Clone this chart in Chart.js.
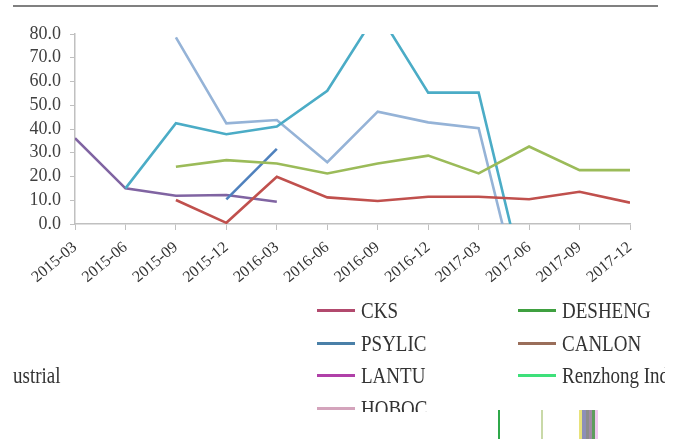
<!DOCTYPE html>
<html>
<head>
<meta charset="utf-8">
<script src="https://cdn.jsdelivr.net/npm/chart.js@4.4.1/dist/chart.umd.min.js"></script>
<style>
  html, body { margin: 0; padding: 0; background: #fff; }
  #wrap { position: relative; width: 684px; height: 439px; overflow: hidden; font-family: 'Liberation Serif', serif; }
  #topline { position: absolute; left: 13px; top: 5px; width: 645px; height: 2px; background: #808080; }
  #chartBox { position: absolute; left: 0; top: 0; width: 684px; height: 300px; }
  #legend { position: absolute; left: 0; top: 0; width: 665px; height: 412px; overflow: hidden; pointer-events: none; }
  .item { position: absolute; height: 24px; white-space: nowrap; }
  .sw { position: absolute; left: 0; top: 10px; width: 38px; height: 3px; }
  .lbl { position: absolute; left: 44px; top: 0; font-size: 19px; line-height: 24px; color: #333;
         transform: scaleY(1.2); transform-origin: left center; }
  .bar { position: absolute; top: 410px; height: 29px; }
</style>
</head>
<body>
<div id="wrap">
  <div id="topline"></div>
  <div id="chartBox"><canvas id="chart"></canvas></div>
  <div id="legend"></div>
  <div class="bar" style="left:498px;width:2px;background:#2fa84a;"></div>
  <div class="bar" style="left:541px;width:2px;background:#c9d9a8;"></div>
  <div class="bar" style="left:579px;width:19px;background:linear-gradient(90deg,#e8e27a 0 15%,#8d8fb8 15% 35%,#8c8c8c 35% 55%,#a28aa6 55% 70%,#5f9c5f 70% 85%,#f0c8f0 85%);"></div>
</div>
<script>
// quarters on the x axis
const quarters = ['2015-03', '2015-06', '2015-09', '2015-12', '2016-03', '2016-06',
                  '2016-09', '2016-12', '2017-03', '2017-06', '2017-09', '2017-12'];

// series values
const cks      = [null, null, 10.1, 0.5, 19.9, 11.2, 9.7, 11.5, 11.5, 10.4, 13.6, 9.0];
const desheng  = [null, null, 24.1, 26.9, 25.5, 21.3, 25.5, 28.8, 21.3, 32.6, 22.7, 22.7];
const psylic   = [null, 15.0, 42.4, 37.8, 41.0, 56.1, 89.5, 55.3, 55.3, -32.8, null, null];
const canlon   = [null, null, null, 10.4, 31.6, null, null, null, null, null, null, null];
const lantu    = [36.1, 15.0, 11.9, 12.2, 9.4, null, null, null, null, null, null, null];
const renzhong = [null, null, null, null, null, null, null, null, null, null, null, null];
const hoboc    = [null, null, 78.6, 42.4, 43.8, 26.0, 47.3, 42.8, 40.3, -45.3, null, null];

const seriesNames = ['CKS', 'DESHENG', 'PSYLIC', 'CANLON', 'LANTU', 'Renzhong Industrial', 'HOBOC'];
const seriesData = [cks, desheng, psylic, canlon, lantu, renzhong, hoboc];

// y axis
const yMin = 0, yMax = 80, yStep = 10;

// colours: line in the plot, and swatch in the legend
const lineColors   = ['#c0504d', '#9bbb59', '#4bacc6', '#4f81bd', '#8064a2', '#3fdc7c', '#95b3d7'];
const legendColors = ['#b24a6e', '#3fa040', '#4a80a8', '#9a6e5a', '#b040a8', '#3ee07a', '#d4a4bc'];

Chart.defaults.font.family = "'Liberation Serif', serif";
Chart.defaults.color = '#404040';

const datasets = seriesNames.map((name, i) => ({
  label: name,
  data: seriesData[i],
  borderColor: lineColors[i],
  backgroundColor: lineColors[i],
  borderWidth: 2.6,
  pointRadius: 0,
  tension: 0,
  fill: false,
  spanGaps: false,
  clip: 0
}));

new Chart(document.getElementById('chart'), {
  type: 'line',
  data: { labels: quarters, datasets: datasets },
  options: {
    responsive: true,
    maintainAspectRatio: false,
    animation: false,
    layout: { padding: { top: 34, right: 54, left: 0, bottom: 0 } },
    plugins: { legend: { display: false }, tooltip: { enabled: false } },
    scales: {
      x: {
        offset: false,
        grid: { drawOnChartArea: false, drawTicks: true, tickLength: 6, color: '#c0c0c0' },
        border: { color: '#c0c0c0', width: 1.5 },
        ticks: { autoSkip: false, minRotation: 40, maxRotation: 40, padding: 8,
                 font: { size: 16 }, color: '#333' },
        afterFit: s => { s.height = 76; }
      },
      y: {
        min: yMin, max: yMax,
        grid: { drawOnChartArea: false, drawTicks: true, tickLength: 5, color: '#c0c0c0' },
        border: { color: '#c0c0c0', width: 1.5 },
        ticks: { stepSize: yStep, autoSkip: false, padding: 9, font: { size: 18 }, color: '#404040',
                 callback: v => v.toFixed(1) },
        afterFit: s => { s.width = 75; }
      }
    }
  }
});

// legend below the chart, two columns
const legend = document.getElementById('legend');
const legendOrder = [0, 2, 4, 6, 1, 3, 5];
legendOrder.forEach((idx, k) => {
  const col = k < 4 ? 0 : 1;
  const row = col === 0 ? k : k - 4;
  const item = document.createElement('div');
  item.className = 'item';
  item.style.left = (col === 0 ? 317 : 518) + 'px';
  item.style.top = (299 + row * 32.7) + 'px';
  item.innerHTML = '<div class="sw" style="background:' + legendColors[idx] + '"></div>' +
                   '<div class="lbl">' + seriesNames[idx] + '</div>';
  legend.appendChild(item);
});
// tail of the long label wrapped to the left edge
const tail = document.createElement('div');
tail.className = 'item';
tail.style.left = '-31px';
tail.style.top = (299 + 2 * 32.7) + 'px';
tail.innerHTML = '<div class="lbl">ustrial</div>';
legend.appendChild(tail);
</script>
</body>
</html>
